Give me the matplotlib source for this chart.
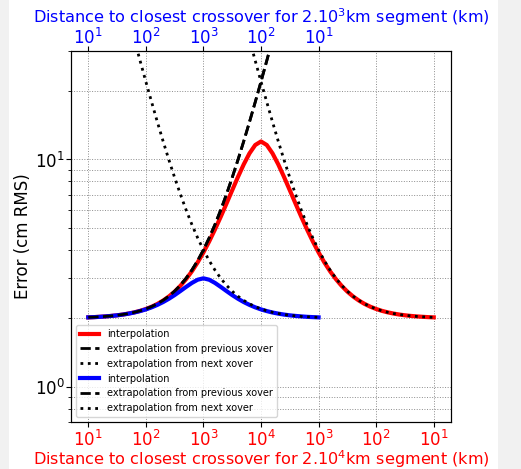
import numpy as np
import matplotlib
matplotlib.use('Agg')
import matplotlib.pyplot as plt
from matplotlib.patches import Rectangle

nan = np.nan

# position along the segment, in log10 of the distance to the nearest crossover
pos = np.round(np.linspace(1, 7, 61), 1)

bottom_labels = ['$10^{1}$', '$10^{2}$', '$10^{3}$', '$10^{4}$', '$10^{3}$', '$10^{2}$', '$10^{1}$']
top_labels = ['$10^{1}$', '$10^{2}$', '$10^{3}$', '$10^{2}$', '$10^{1}$']

# 2.10^4 km segment, error in cm RMS
interp_long = [2.02, 2.025, 2.032, 2.04, 2.05, 2.063, 2.079, 2.10, 2.126, 2.158,
               2.199, 2.25, 2.314, 2.395, 2.496, 2.622, 2.78, 2.977, 3.222, 3.526,
               3.90, 4.359, 4.919, 5.592, 6.393, 7.325, 8.377, 9.512, 10.638, 11.577,
               12.0,
               11.577, 10.638, 9.512, 8.377, 7.325, 6.393, 5.592, 4.919, 4.359, 3.90,
               3.526, 3.222, 2.977, 2.78, 2.622, 2.496, 2.395, 2.314, 2.25, 2.199,
               2.158, 2.126, 2.10, 2.079, 2.063, 2.05, 2.04, 2.032, 2.025, 2.02]

# extrapolation from the previous crossover (same for both segments)
extrap_prev = [2.02, 2.025, 2.032, 2.04, 2.05, 2.063, 2.08, 2.10, 2.126, 2.159,
               2.20, 2.252, 2.317, 2.399, 2.502, 2.632, 2.796, 3.002, 3.262, 3.589,
               4.0, 4.518, 5.17, 5.991, 7.024, 8.325, 9.962, 12.02, 14.62, 17.89,
               22.0, 27.18, 33.7] + [nan] * 28

extrap_next_long = [nan] * 28 + [
               33.7, 27.18, 22.0, 17.89, 14.62, 12.02, 9.962, 8.325, 7.024, 5.991,
               5.17, 4.518, 4.0, 3.589, 3.262, 3.002, 2.796, 2.632, 2.502, 2.399,
               2.317, 2.252, 2.20, 2.159, 2.126, 2.10, 2.08, 2.063, 2.05, 2.04,
               2.032, 2.025, 2.02]

# 2.10^3 km segment
interp_short = [2.02, 2.025, 2.031, 2.04, 2.05, 2.062, 2.078, 2.098, 2.122, 2.153,
                2.19, 2.236, 2.292, 2.359, 2.439, 2.532, 2.638, 2.751, 2.864, 2.958,
                3.0,
                2.958, 2.864, 2.751, 2.638, 2.532, 2.439, 2.359, 2.292, 2.236, 2.19,
                2.153, 2.122, 2.098, 2.078, 2.062, 2.05, 2.04, 2.031, 2.025, 2.02] + [nan] * 20

extrap_next_short = [nan] * 8 + [
               33.7, 27.18, 22.0, 17.89, 14.62, 12.02, 9.962, 8.325, 7.024, 5.991,
               5.17, 4.518, 4.0, 3.589, 3.262, 3.002, 2.796, 2.632, 2.502, 2.399,
               2.317, 2.252, 2.20, 2.159, 2.126, 2.10, 2.08, 2.063, 2.05, 2.04,
               2.032, 2.025, 2.02] + [nan] * 20

fig = plt.figure(figsize=(5.21, 4.69), dpi=100)
fig.patch.set_facecolor('#f1f1f1')
fig.add_artist(Rectangle((9 / 521, 0), 489 / 521, 1, transform=fig.transFigure,
                         facecolor='white', edgecolor='none', zorder=-10))

ax = fig.add_axes([71 / 521, 1 - 422 / 469, 380 / 521, 371 / 469])

ax.plot(pos, interp_long, 'r-', lw=3, label='interpolation')
ax.plot(pos, extrap_prev, 'k--', lw=2, label='extrapolation from previous xover')
ax.plot(pos, extrap_next_long, 'k:', lw=2, label='extrapolation from next xover')
ax.plot(pos, interp_short, 'b-', lw=3, label='interpolation')
ax.plot(pos, extrap_prev, 'k--', lw=2, label='extrapolation from previous xover')
ax.plot(pos, extrap_next_short, 'k:', lw=2, label='extrapolation from next xover')

ax.set_yscale('log')
ax.set_xlim(0.7, 7.3)
ax.set_ylim(0.7, 30)
ax.grid(True, which='both', linestyle=':', color='0.55', lw=0.7)

ax.set_xticks(range(1, 8))
ax.set_xticklabels(bottom_labels, color='red', fontsize=12)
ax.tick_params(axis='x', pad=2)
ax.tick_params(axis='y', labelsize=12, pad=1)
ax.set_xlabel('Distance to closest crossover for 2.10$^4$km segment (km)',
              color='red', fontsize=11.6, labelpad=-1)
ax.set_ylabel('Error (cm RMS)', fontsize=12, labelpad=2)
ax.legend(loc='lower left', fontsize=7)

ax2 = ax.twiny()
ax2.set_xlim(ax.get_xlim())
ax2.set_xticks(range(1, 6))
ax2.set_xticklabels(top_labels, color='blue', fontsize=12)
ax2.tick_params(axis='x', pad=-1)
ax2.set_xlabel('Distance to closest crossover for 2.10$^3$km segment (km)',
               color='blue', fontsize=11.6, labelpad=3)

fig.savefig('out.png', dpi=100, facecolor=fig.get_facecolor())
